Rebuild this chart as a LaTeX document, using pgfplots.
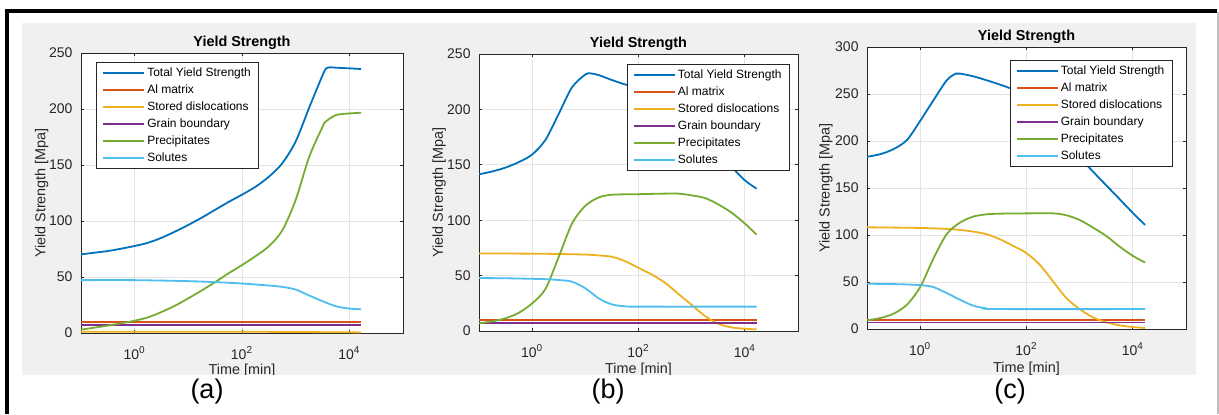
\documentclass[border=0pt]{standalone}
\usepackage{fontspec}
\setmainfont{Liberation Sans}
\usepackage{pgfplots}
\pgfplotsset{compat=1.18}
\definecolor{mblue}{RGB}{0,114,189}
\definecolor{morange}{RGB}{217,83,25}
\definecolor{myellow}{RGB}{237,177,32}
\definecolor{mpurple}{RGB}{126,47,142}
\definecolor{mgreen}{RGB}{119,172,48}
\definecolor{mcyan}{RGB}{77,190,238}
\definecolor{axc}{RGB}{38,38,38}
\definecolor{gridc}{RGB}{228,228,228}
\definecolor{figbg}{RGB}{240,240,240}
\pgfplotsset{legend image code/.code={\draw[#1] (0pt,0pt) -- (20.5pt,0pt);}}
\pgfplotsset{
 myax/.style={
  scale only axis, xmin=0.1, xmax=1e5, ymin=0,
  xtick={1,100,10000},
  xticklabels={10\textsuperscript{0},10\textsuperscript{2},10\textsuperscript{4}},
  minor xtick={}, minor ytick={},
  grid=major, major grid style={draw=gridc, line width=0.4pt},
  axis line style={draw=axc, line width=0.5pt},
  tick style={draw=axc, line width=0.5pt}, major tick length=1.6pt, tick align=inside,
  ticklabel style={font=\fontsize{7}{8}\selectfont, text=axc},
  xticklabel style={yshift=-3.3pt},
  yticklabel style={xshift=-0.7pt, /pgf/number format/assume math mode=true},
  title={Yield Strength},
  title style={at={(0.5,1)}, anchor=base, yshift=-2.6pt, font=\bfseries\fontsize{7.2}{8}\selectfont, text=black},
  xlabel={Time [min]}, ylabel={Yield Strength [Mpa]},
  label style={font=\fontsize{7.2}{8}\selectfont, text=axc},
  axis background/.style={fill=white},
  legend cell align=left,
  legend style={draw=axc, line width=0.5pt, fill=white, font=\fontsize{6}{7}\selectfont,
    inner xsep=3pt, inner ysep=1pt,
    nodes={inner xsep=1pt, inner ysep=0pt, text height=6pt, text depth=2.5pt}, row sep=0pt},
  every axis plot/.append style={line width=0.9pt, smooth, no marks},
 }
}
\begin{document}
\begin{tikzpicture}
\useasboundingbox (0,0) rectangle (609.5pt,207pt);
\fill[white] (0,0) rectangle (609.5pt,207pt);
\fill[figbg] (11pt,19.5pt) rectangle (598pt,195.5pt);

% ---------- (a)
\begin{axis}[xmode=log, myax, at={(40.5pt,40.5pt)}, anchor=south west, width=161pt, height=140pt,
  ymax=250, ytick={0,50,...,250},
  ylabel style={at={(axis description cs:-0.122,0.5)}, anchor=center},
  xlabel style={at={(axis description cs:0.5,-0.136)}, anchor=center},
  legend style={at={(0.0466,0.968)}, anchor=north west}]
\addplot[mblue] coordinates {(0.1,70.2) (0.17783,71.7) (0.31623,73.2) (0.56234,75.3) (1,77.7) (1.7783,80.6) (3.1623,85) (5.6234,90.5) (10,96.5) (17.783,103) (31.623,110) (56.234,117) (100,123.5) (177.83,130.5) (316.23,139.5) (562.34,151.5) (1000,171) (1778.3,201) (3162.3,230) (3715.4,236.3) (4466.8,237.2) (5623.4,236.9) (10000,236.3) (16600,235.7)};
\addplot[morange] coordinates {(0.1,10) (16600,10)};
\addplot[myellow] coordinates {(0.1,1.2) (100,1.1) (1000,0.9) (10000,0.6) (16600,0.5)};
\addplot[mpurple] coordinates {(0.1,7) (16600,7)};
\addplot[mgreen] coordinates {(0.1,3) (0.17783,4.8) (0.31623,6.6) (0.56234,8.7) (1,11) (1.7783,14) (3.1623,18.8) (5.6234,24.3) (10,31) (17.783,38) (31.623,45.5) (56.234,53.3) (100,60.7) (177.83,68.5) (316.23,77.5) (562.34,91.5) (1000,118.8) (1778.3,157) (3162.3,184) (3630.8,188.7) (5623.4,194.6) (10000,196) (16600,196.7)};
\addplot[mcyan] coordinates {(0.1,47.2) (1,47.2) (10,46.3) (31.623,45.4) (100,44.2) (316.23,42.4) (562.34,41.2) (1000,38.8) (1778.3,33.5) (3162.3,28.4) (5623.4,23.9) (10000,21.8) (16600,21.2)};
\legend{Total Yield Strength, Al matrix, Stored dislocations, Grain boundary, Precipitates, Solutes}
\end{axis}

% ---------- (b)
\begin{axis}[xmode=log, myax, at={(239.5pt,41.5pt)}, anchor=south west, width=159.5pt, height=138.5pt,
  ymax=250, ytick={0,50,...,250},
  ylabel style={at={(axis description cs:-0.125,0.5)}, anchor=center},
  xlabel style={at={(axis description cs:0.5,-0.141)}, anchor=center},
  legend style={at={(0.975,0.964)}, anchor=north east}]
\addplot[mblue] coordinates {(0.1,141.4) (0.17783,144) (0.31623,147.5) (0.56234,152.5) (1,159.3) (1.7783,172.5) (3.1623,196) (5.6234,220) (10,231.5) (12.589,232.5) (17.783,231) (31.623,226.5) (56.234,222.5) (100,219.5) (177.83,213.5) (316.23,206) (562.34,196) (1000,185.6) (1778.3,172) (3162.3,158.6) (5623.4,148) (10000,136) (16600,128.5)};
\addplot[morange] coordinates {(0.1,10) (16600,10)};
\addplot[myellow] coordinates {(0.1,70) (1,69.8) (3.1623,69.5) (10,69) (17.783,68.2) (31.623,67) (56.234,63) (100,57) (177.83,51) (316.23,43.5) (562.34,33.5) (1000,23.5) (1778.3,13.5) (3162.3,6.5) (5623.4,3.3) (10000,2) (16600,1.5)};
\addplot[mpurple] coordinates {(0.1,7) (16600,7)};
\addplot[mgreen] coordinates {(0.1,6.9) (0.17783,8.7) (0.31623,11.5) (0.56234,16.5) (1,25) (1.7783,38) (3.1623,67) (5.6234,97) (10,113) (17.783,120.5) (31.623,123) (100,123.5) (316.23,124) (562.34,124) (1000,122.4) (1778.3,120) (3162.3,114.3) (5623.4,106.8) (10000,97) (16600,87)};
\addplot[mcyan] coordinates {(0.1,47.8) (0.31623,47.6) (1,47.1) (1.7783,46.8) (3.1623,46) (5.6234,44.5) (10,38.5) (17.783,29.5) (31.623,24) (56.234,22.3) (100,22) (16600,22)};
\legend{Total Yield Strength, Al matrix, Stored dislocations, Grain boundary, Precipitates, Solutes}
\end{axis}

% ---------- (c)
\begin{axis}[xmode=log, myax, at={(433.5pt,42.5pt)}, anchor=south west, width=159.5pt, height=141pt,
  ymax=300, ytick={0,50,...,300},
  ylabel style={at={(axis description cs:-0.1285,0.5)}, anchor=center},
  xlabel style={at={(axis description cs:0.5,-0.140)}, anchor=center},
  legend style={at={(0.959,0.954)}, anchor=north east}]
\addplot[mblue] coordinates {(0.1,183.2) (0.17783,186) (0.31623,191.4) (0.56234,201) (1,221.4) (1.7783,243.4) (3.1623,264.6) (4.6774,271.7) (5.6234,271.7) (10,268.8) (17.783,264.6) (31.623,260) (56.234,254.7) (100,246) (177.83,230) (316.23,213) (562.34,196) (1000,182) (1778.3,167.5) (3162.3,152.8) (5623.4,138.2) (10000,123.5) (16982,110.7)};
\addplot[morange] coordinates {(0.1,10) (16982,10)};
\addplot[myellow] coordinates {(0.1,108.2) (1,107.5) (3.1623,106.5) (5.6234,105.4) (10,103.6) (17.783,100.8) (31.623,95.5) (56.234,88.4) (100,80.7) (177.83,68.3) (316.23,50.6) (562.34,32.9) (1000,21.2) (1778.3,12.4) (3162.3,7.1) (5623.4,3.9) (10000,2.1) (16982,1.1)};
\addplot[mpurple] coordinates {(0.1,7) (16982,7)};
\addplot[mgreen] coordinates {(0.1,9.2) (0.17783,11.7) (0.31623,16.3) (0.56234,25.8) (1,44.6) (1.7783,75) (3.1623,101) (5.6234,113.2) (10,119.6) (17.783,122) (31.623,122.7) (100,123) (316.23,123) (562.34,121) (1000,116) (1778.3,107.9) (3162.3,99) (5623.4,87.7) (10000,77.8) (16982,70.7)};
\addplot[mcyan] coordinates {(0.1,48.1) (0.31623,47.8) (1,46.7) (1.7783,44.6) (3.1623,38.2) (5.6234,31.1) (10,24.8) (17.783,21.9) (31.623,21.2) (16982,21.2)};
\legend{Total Yield Strength, Al matrix, Stored dislocations, Grain boundary, Precipitates, Solutes}
\end{axis}

% frame and captions
\fill[white] (11pt,0pt) rectangle (598pt,19.5pt);
\draw[black, line width=2pt] (2.5pt,201.3pt) -- (608.5pt,201.3pt);
\draw[black, line width=2pt] (3.5pt,0pt) -- (3.5pt,202.3pt);
\draw[black!25, line width=0.6pt] (609pt,0pt) -- (609pt,201pt);
\node[font=\fontsize{13.5}{15}\selectfont] at (103.5pt,11.25pt) {(a)};
\node[font=\fontsize{13.5}{15}\selectfont] at (304pt,11.25pt) {(b)};
\node[font=\fontsize{13.5}{15}\selectfont] at (505pt,11.25pt) {(c)};
\end{tikzpicture}
\end{document}
